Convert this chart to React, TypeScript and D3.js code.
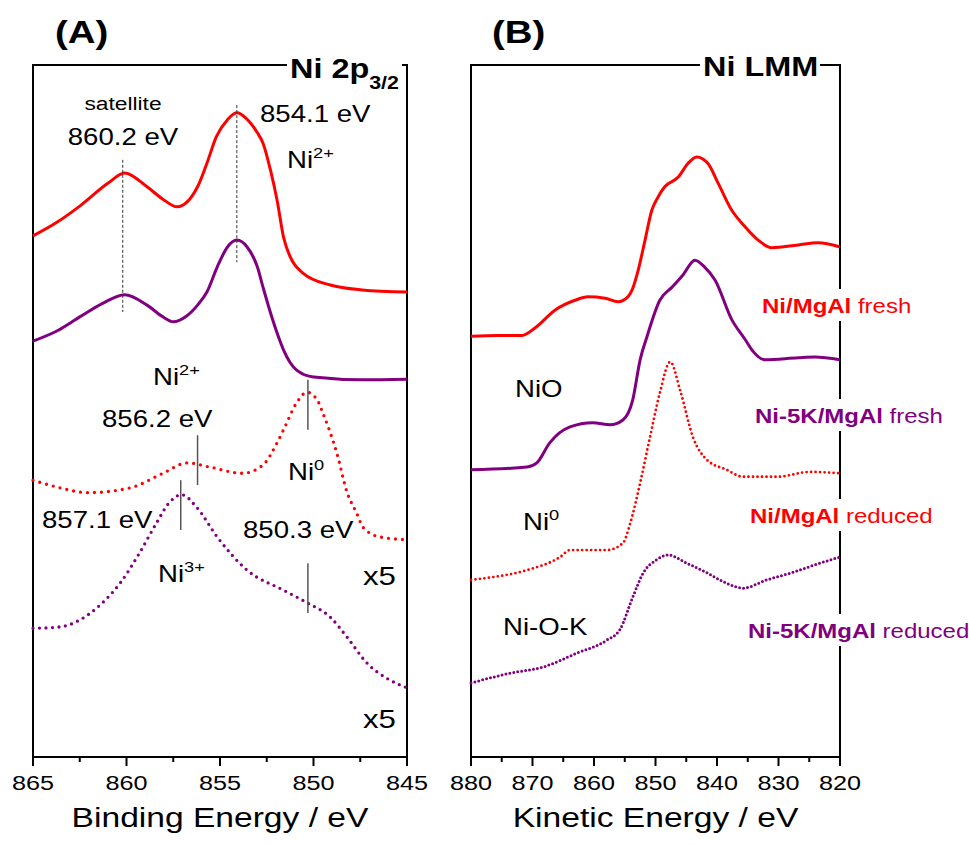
import React, { useEffect, useRef } from 'react'
import * as d3 from 'd3'

type Pt = [number, number]

// Ni 2p3/2 region: [binding energy (eV), intensity (a.u., curves offset)]
const niFreshXps: Pt[] = [[865,75.3],[863.7,77.3],[862.5,79.6],[861.0,82.9],[860.1,84.4],[858.9,82.4],[858.0,80.5],[857.3,79.5],[856.2,82.4],[855.7,85.8],[855.2,89.6],[854.6,92.1],[854.1,93.1],[853.6,92.3],[853.0,90.2],[852.7,88.7],[852.3,84.8],[851.95,80.5],[851.6,75.1],[851.25,72.3],[850.55,69.9],[849.1,68.2],[847.4,67.5],[845,67.2]]
const niKFreshXps: Pt[] = [[865,60.1],[863.7,61.6],[862.5,63.6],[861.25,65.6],[860.1,66.8],[858.9,65.3],[858.05,63.6],[857.5,62.9],[856.8,63.7],[856.2,65.3],[855.7,67.2],[855.15,70.8],[854.6,73.7],[854.1,74.7],[853.55,73.7],[853.0,70.8],[852.7,67.9],[852.3,64.2],[851.95,61.3],[851.6,58.8],[850.9,55.9],[850.0,54.9],[847.35,54.5],[845,54.6]]
const niReducedXps: Pt[] = [[865,40.0],[863.55,38.9],[862.1,38.2],[859.8,38.9],[858.05,41.0],[856.75,42.5],[855.55,41.9],[853.8,41.0],[852.7,42.2],[851.95,45.4],[851.6,47.3],[850.9,51.2],[850.35,52.7],[849.8,51.6],[849.5,49.7],[848.75,43.9],[848.2,38.2],[847.7,35.3],[847.35,33.2],[846.45,31.8],[845,31.4]]
const niKReducedXps: Pt[] = [[865,18.6],[863.55,18.8],[862.5,19.8],[861.4,22.0],[860.35,25.1],[859.3,29.5],[858.4,33.8],[857.7,36.8],[857.05,37.9],[856.25,36.1],[855.15,31.8],[853.55,27.0],[851.6,24.1],[850.35,22.3],[849.1,20.2],[848.2,17.3],[847.15,13.6],[845.9,11.1],[845,10.0]]

// Ni LMM region: [kinetic energy (eV), intensity (a.u., curves offset)]
const niFreshAes: Pt[] = [[880,60.8],[875.6,60.9],[871.7,60.9],[869.6,62.0],[866.3,64.6],[863.1,66.0],[861.0,66.5],[858.2,66.3],[856.1,65.8],[854.5,66.5],[853.8,67.5],[852.8,70.4],[851.7,74.7],[850.6,79.0],[849.6,80.9],[848.5,82.4],[846.3,83.8],[844.7,85.8],[843.3,86.7],[841.5,85.8],[839.8,82.9],[837.6,79.0],[835.4,76.6],[833.3,74.7],[831.1,73.6],[826.8,74.0],[823.6,74.3],[820,73.7]]
const niKFreshAes: Pt[] = [[880,41.5],[870.9,41.9],[869.3,42.5],[867.2,45.4],[863.9,47.7],[860.2,48.3],[857.4,48.0],[855.3,48.7],[853.7,51.6],[852.5,57.4],[851.4,60.7],[849.3,66.0],[847.3,67.9],[845.5,69.7],[843.6,71.8],[842.0,70.8],[840.3,68.9],[837.6,63.2],[835.4,60.3],[834.3,58.8],[832.2,57.4],[826.8,57.7],[824.1,57.8],[820,57.4]]
const niReducedAes: Pt[] = [[880,25.6],[876.4,26.0],[870.9,27.0],[865.5,28.9],[863.9,29.9],[857.9,29.9],[855.3,30.9],[854.1,33.8],[852.5,39.6],[850.9,46.2],[849.3,52.6],[847.6,57.1],[846.0,53.0],[843.9,46.2],[841.6,42.9],[838.4,41.5],[835.8,40.5],[830.2,40.5],[824.9,41.2],[820,41.0]]
const niKReducedAes: Pt[] = [[880,10.7],[873.7,12.1],[868.3,13.0],[862.8,15.0],[857.9,16.9],[855.8,18.4],[853.7,23.1],[852.0,26.6],[849.8,28.5],[848.0,29.2],[844.9,28.0],[841.6,26.6],[838.4,25.1],[835.8,24.4],[831.9,25.6],[827.6,26.7],[823.3,28.0],[820,28.9]]

// peak position markers [energy, from, to] in intensity units
const dashedMarks: Pt[][] = [[[860.2, 86.3], [860.2, 64.3]], [[854.1, 94.2], [854.1, 71.5]]]
const solidMarks: Pt[][] = [[[856.2, 46.5], [856.2, 39.3]], [[850.3, 54.5], [850.3, 47.3]], [[857.1, 40.0], [857.1, 32.8]], [[850.3, 28.0], [850.3, 20.8]]]

const xpsTicks = [865, 860, 855, 850, 845]
const aesTicks = [880, 870, 860, 850, 840, 830, 820]

const RED = '#ff0000'
const PURPLE = '#800080'
const FONT = '"Liberation Sans", Arial, Helvetica, sans-serif'
const TOP = 65, BOTTOM = 757

type Seg = { t: string, sup?: boolean, sub?: boolean, bold?: boolean, fill?: string }

function addText(g: any, x: number, y: number, size: number, segs: Seg[], anchor = 'start') {
  const t = g.append('text')
    .attr('transform', `translate(${x},${y}) scale(1.2,1)`)
    .attr('font-family', FONT).attr('font-size', size)
    .attr('text-anchor', anchor).attr('fill', '#000')
  let shift = 0
  segs.forEach(s => {
    const target = s.sup ? -size * 0.45 : s.sub ? size * 0.42 : 0
    const sp = t.append('tspan').attr('dy', target - shift).text(s.t)
    shift = target
    if (s.sup || s.sub) sp.attr('font-size', size * 0.66)
    if (s.bold) sp.attr('font-weight', 'bold')
    if (s.fill) sp.attr('fill', s.fill)
  })
  return t
}

function drawFrame(svg: any, x: any, left: number, right: number, majors: number[], minors: number[], title: string) {
  const g = svg.append('g')
  g.append('rect').attr('x', left).attr('y', TOP).attr('width', right - left).attr('height', BOTTOM - TOP)
    .attr('fill', 'none').attr('stroke', '#000').attr('stroke-width', 2)
  g.selectAll('line.major').data(majors).enter().append('line')
    .attr('x1', (d: number) => x(d)).attr('x2', (d: number) => x(d))
    .attr('y1', BOTTOM).attr('y2', BOTTOM + 9).attr('stroke', '#000').attr('stroke-width', 2)
  g.selectAll('line.minor').data(minors).enter().append('line')
    .attr('x1', (d: number) => x(d)).attr('x2', (d: number) => x(d))
    .attr('y1', BOTTOM).attr('y2', BOTTOM + 5).attr('stroke', '#000').attr('stroke-width', 2)
  majors.forEach(d => addText(g, x(d), 790, 21, [{ t: String(d) }], 'middle'))
  addText(g, (left + right) / 2, 827, 28, [{ t: title }], 'middle')
}

export default function App() {
  const ref = useRef<SVGSVGElement>(null)

  useEffect(() => {
    const svg = d3.select(ref.current)
    svg.selectAll('*').remove()

    const y = d3.scaleLinear().domain([0, 100]).range([BOTTOM, TOP])
    const xA = d3.scaleLinear().domain([865, 845]).range([33, 407])
    const xB = d3.scaleLinear().domain([880, 820]).range([471, 840])

    // frames
    drawFrame(svg, xA, 33, 407, xpsTicks, d3.range(847.5, 865, 5), 'Binding Energy / eV')
    drawFrame(svg, xB, 471, 840, aesTicks, d3.range(825, 880, 10), 'Kinetic Energy / eV')

    // panel titles
    addText(svg, 55, 43, 32, [{ t: '(A)', bold: true }])
    addText(svg, 492, 43, 32, [{ t: '(B)', bold: true }])
    svg.append('rect').attr('x', 287).attr('y', 48).attr('width', 115).attr('height', 48).attr('fill', '#fff')
    addText(svg, 290, 78, 27, [{ t: 'Ni 2p', bold: true }, { t: '3/2', sub: true, bold: true }])
    svg.append('rect').attr('x', 700).attr('y', 50).attr('width', 120).attr('height', 32).attr('fill', '#fff')
    addText(svg, 703, 76, 27, [{ t: 'Ni LMM', bold: true }])

    // curves
    const lineA = d3.line<Pt>().x(d => xA(d[0])).y(d => y(d[1])).curve(d3.curveMonotoneX)
    const lineB = d3.line<Pt>().x(d => xB(d[0])).y(d => y(d[1])).curve(d3.curveMonotoneX)
    const series = [
      { d: niFreshXps, line: lineA, color: RED, w: 3, dash: null },
      { d: niKFreshXps, line: lineA, color: PURPLE, w: 3, dash: null },
      { d: niReducedXps, line: lineA, color: RED, w: 3.3, dash: '0 7' },
      { d: niKReducedXps, line: lineA, color: PURPLE, w: 3.3, dash: '0 6.5' },
      { d: niFreshAes, line: lineB, color: RED, w: 3, dash: null },
      { d: niKFreshAes, line: lineB, color: PURPLE, w: 3, dash: null },
      { d: niReducedAes, line: lineB, color: RED, w: 2.8, dash: '0 4.5' },
      { d: niKReducedAes, line: lineB, color: PURPLE, w: 3, dash: '0 4' },
    ]
    series.forEach(s => {
      const p = svg.append('path').attr('d', s.line(s.d)).attr('fill', 'none')
        .attr('stroke', s.color).attr('stroke-width', s.w).attr('stroke-linejoin', 'round')
      if (s.dash) p.attr('stroke-dasharray', s.dash).attr('stroke-linecap', 'round')
    })

    // peak markers
    const mark = d3.line<Pt>().x(d => xA(d[0])).y(d => y(d[1]))
    dashedMarks.forEach(m => svg.append('path').attr('d', mark(m))
      .attr('stroke', '#333').attr('stroke-width', 1).attr('stroke-dasharray', '3,2'))
    solidMarks.forEach(m => svg.append('path').attr('d', mark(m))
      .attr('stroke', '#555').attr('stroke-width', 1.5))

    // panel A annotations
    addText(svg, 123, 110, 19, [{ t: 'satellite' }], 'middle')
    addText(svg, 123, 145, 23, [{ t: '860.2 eV' }], 'middle')
    addText(svg, 260, 122, 23, [{ t: '854.1 eV' }])
    addText(svg, 287, 168, 23, [{ t: 'Ni' }, { t: '2+', sup: true }])
    addText(svg, 153, 385, 23, [{ t: 'Ni' }, { t: '2+', sup: true }])
    addText(svg, 102, 427, 23, [{ t: '856.2 eV' }])
    addText(svg, 288, 480, 23, [{ t: 'Ni' }, { t: '0', sup: true }])
    addText(svg, 42, 528, 23, [{ t: '857.1 eV' }])
    addText(svg, 243, 538, 23, [{ t: '850.3 eV' }])
    addText(svg, 158, 582, 23, [{ t: 'Ni' }, { t: '3+', sup: true }])
    addText(svg, 363, 585, 26, [{ t: 'x5' }])
    addText(svg, 363, 728, 26, [{ t: 'x5' }])

    // panel B annotations
    addText(svg, 515, 397, 23, [{ t: 'NiO' }])
    addText(svg, 523, 530, 23, [{ t: 'Ni' }, { t: '0', sup: true }])
    addText(svg, 503, 635, 23, [{ t: 'Ni-O-K' }])

    const sampleLabels = [
      { x: 762, y: 313, name: 'Ni/MgAl', state: ' fresh', color: RED },
      { x: 755, y: 423, name: 'Ni-5K/MgAl', state: ' fresh', color: PURPLE },
      { x: 750, y: 523, name: 'Ni/MgAl', state: ' reduced', color: RED },
      { x: 748, y: 638, name: 'Ni-5K/MgAl', state: ' reduced', color: PURPLE },
    ]
    sampleLabels.forEach(l => {
      svg.append('rect').attr('x', l.x).attr('y', l.y - 24).attr('width', 969 - l.x).attr('height', 32).attr('fill', '#fff')
      addText(svg, l.x, l.y, 20, [{ t: l.name, bold: true, fill: l.color }, { t: l.state, fill: l.color }])
    })
  }, [])

  return (
    <svg ref={ref} width={969} height={845}
      style={{ position: 'absolute', left: 0, top: 0, background: '#fff' }} />
  )
}
